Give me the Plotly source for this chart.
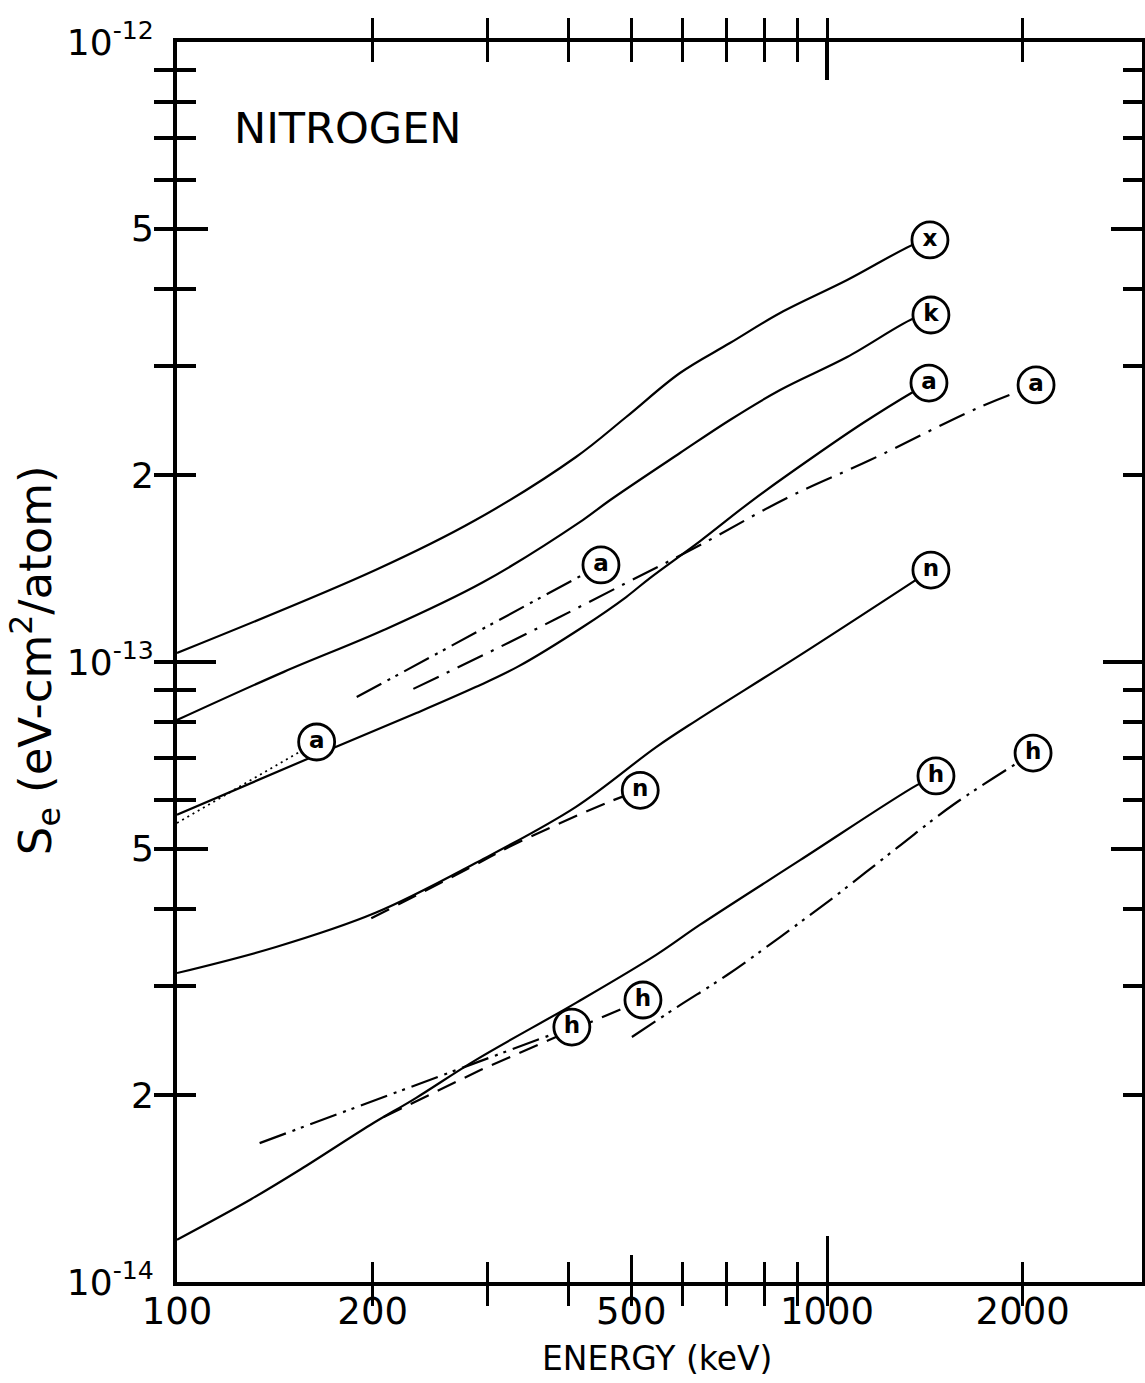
import plotly.graph_objects as go

# ---------------- data (energy in keV, S_e in eV-cm^2/atom) ----------------
x_energy = [100, 202, 288, 411, 491, 594, 709, 847, 1074, 1375, 1440]
x_se = [1.034e-13, 1.407e-13, 1.694e-13, 2.141e-13, 2.484e-13, 2.925e-13,
        3.269e-13, 3.655e-13, 4.131e-13, 4.741e-13, 4.794e-13]

k_energy = [100, 146, 208, 296, 421, 464, 594, 709, 847, 1074, 1375, 1445]
k_se = [0.806e-13, 0.964e-13, 1.126e-13, 1.346e-13, 1.694e-13, 1.825e-13,
        2.173e-13, 2.457e-13, 2.746e-13, 3.104e-13, 3.601e-13, 3.628e-13]

a_solid_energy = [100, 164, 234, 288, 334, 421, 491, 534, 638, 769, 952, 1136, 1356, 1435]
a_solid_se = [0.567e-13, 0.708e-13, 0.828e-13, 0.911e-13, 0.982e-13, 1.139e-13, 1.273e-13,
              1.366e-13, 1.567e-13, 1.825e-13, 2.141e-13, 2.429e-13, 2.726e-13, 2.818e-13]

a_dotted_energy = [100, 164]
a_dotted_se = [0.550e-13, 0.743e-13]

a_dashdotdot_energy = [189, 449]
a_dashdotdot_se = [0.878e-13, 1.434e-13]

a_dashdot_energy = [231, 337, 491, 638, 868, 1165, 1719, 2097]
a_dashdot_se = [0.905e-13, 1.097e-13, 1.341e-13, 1.544e-13, 1.839e-13, 2.117e-13, 2.578e-13, 2.798e-13]

n_solid_energy = [100, 142, 202, 288, 411, 546, 631, 909, 1445]
n_solid_se = [0.315e-13, 0.347e-13, 0.394e-13, 0.474e-13, 0.584e-13, 0.729e-13,
              0.806e-13, 1.026e-13, 1.407e-13]

n_dashed_energy = [199, 288, 324, 457, 516]
n_dashed_se = [0.386e-13, 0.471e-13, 0.503e-13, 0.592e-13, 0.621e-13]

h_solid_energy = [100, 130, 155, 198, 233, 288, 411, 546, 638, 909, 1375, 1471]
h_solid_se = [0.117e-13, 0.136e-13, 0.152e-13, 0.179e-13, 0.198e-13, 0.228e-13,
              0.282e-13, 0.337e-13, 0.377e-13, 0.479e-13, 0.633e-13, 0.655e-13]

h_dashed_energy = [208, 293, 405, 521]
h_dashed_se = [0.1845e-13, 0.2197e-13, 0.2549e-13, 0.285e-13]

h_dashdotdot_short_energy = [134, 405]
h_dashdotdot_short_se = [0.1675e-13, 0.2577e-13]

h_dashdotdot_long_energy = [501, 588, 702, 847, 1011, 1281, 1562, 2075]
h_dashdotdot_long_se = [0.2484e-13, 0.2776e-13, 0.3127e-13, 0.3601e-13, 0.4131e-13,
                        0.5012e-13, 0.588e-13, 0.7131e-13]

# curve end labels (letter, energy, S_e)
label_letters = ["x", "k", "a", "a", "a", "a", "n", "n", "h", "h", "h", "h"]
label_energy = [1440, 1445, 1435, 2097, 449, 164, 1445, 516, 1471, 2075, 405, 521]
label_se = [4.794e-13, 3.628e-13, 2.818e-13, 2.798e-13, 1.434e-13, 0.743e-13,
            1.407e-13, 0.621e-13, 0.655e-13, 0.7131e-13, 0.2577e-13, 0.285e-13]

# axis ticks
x_tickvals = [100, 200, 300, 400, 500, 600, 700, 800, 900, 1000, 2000]
x_ticktext = ["100", "200", "", "", "500", "", "", "", "", "1000", "2000"]
y_tickvals = [1e-14, 2e-14, 3e-14, 4e-14, 5e-14, 6e-14, 7e-14, 8e-14, 9e-14,
              1e-13, 2e-13, 3e-13, 4e-13, 5e-13, 6e-13, 7e-13, 8e-13, 9e-13, 1e-12]
y_ticktext = ["10<sup>-14</sup>", "2", "", "", "5", "", "", "", "",
              "10<sup>-13</sup>", "2", "", "", "5", "", "", "", "", "10<sup>-12</sup>"]

# ---------------- styles ----------------
FONT = "DejaVu Sans"
DASH = "20px,10px"
DASHDOT = "28px,9px,3px,9px"
DASHDOTDOT = "28px,7px,3px,6px,3px,7px"
DOT = "2px,4px"

series = [
    (x_energy, x_se, "solid", "spline", 2.2),
    (k_energy, k_se, "solid", "spline", 2.2),
    (a_solid_energy, a_solid_se, "solid", "spline", 2.2),
    (a_dotted_energy, a_dotted_se, DOT, "linear", 1.8),
    (a_dashdotdot_energy, a_dashdotdot_se, DASHDOTDOT, "linear", 2.2),
    (a_dashdot_energy, a_dashdot_se, DASHDOT, "spline", 2.2),
    (n_solid_energy, n_solid_se, "solid", "spline", 2.2),
    (n_dashed_energy, n_dashed_se, DASH, "spline", 2.2),
    (h_solid_energy, h_solid_se, "solid", "spline", 2.2),
    (h_dashed_energy, h_dashed_se, DASH, "linear", 2.2),
    (h_dashdotdot_short_energy, h_dashdotdot_short_se, DASHDOTDOT, "linear", 2.2),
    (h_dashdotdot_long_energy, h_dashdotdot_long_se, DASHDOTDOT, "spline", 2.2),
]

fig = go.Figure()
for ex, se, dash, shape, w in series:
    fig.add_trace(go.Scatter(
        x=ex, y=se, mode="lines",
        line=dict(color="black", width=w, dash=dash, shape=shape, smoothing=1.0),
        showlegend=False, hoverinfo="skip"))

fig.add_trace(go.Scatter(
    x=label_energy, y=label_se, mode="markers+text", text=label_letters,
    textposition="middle center",
    textfont=dict(family=FONT, size=23, color="black", weight="bold"),
    marker=dict(symbol="circle", size=36, color="white",
                line=dict(color="black", width=2.8)),
    showlegend=False, hoverinfo="skip", cliponaxis=False))

# empty traces so overlay axes (longer ticks) are drawn
for xa, ya in [("x2", "y"), ("x3", "y"), ("x4", "y"), ("x", "y2"), ("x", "y3")]:
    fig.add_trace(go.Scatter(x=[], y=[], xaxis=xa, yaxis=ya, showlegend=False))

XR = [2, 3.4846]
YR = [-14, -12]
base_x = dict(type="log", range=XR, showgrid=False, zeroline=False, automargin=False)
base_y = dict(type="log", range=YR, showgrid=False, zeroline=False, automargin=False)

fig.update_layout(
    width=1145, height=1383,
    margin=dict(l=177, r=3, t=42, b=101),
    paper_bgcolor="white", plot_bgcolor="white",
    font=dict(family=FONT, color="black"),
    xaxis=dict(**base_x, tickmode="array", tickvals=x_tickvals, ticktext=x_ticktext,
               ticks="inside", ticklen=20, tickwidth=3, tickcolor="black",
               showline=True, linewidth=4, linecolor="black", mirror="allticks",
               tickfont=dict(family=FONT, size=37, color="black"),
               ticklabelstandoff=-6),
    xaxis2=dict(**base_x, overlaying="x", anchor="y", side="bottom",
                tickmode="array", tickvals=[500], ticks="inside", ticklen=27,
                tickwidth=3, tickcolor="black", showticklabels=False, showline=False),
    xaxis3=dict(**base_x, overlaying="x", anchor="y", side="bottom",
                tickmode="array", tickvals=[1000], ticks="inside", ticklen=46,
                tickwidth=3, tickcolor="black", showticklabels=False, showline=False),
    xaxis4=dict(**base_x, overlaying="x", anchor="y", side="top",
                tickmode="array", tickvals=[1000], ticks="inside", ticklen=38,
                tickwidth=4, tickcolor="black", showticklabels=False, showline=False),
    yaxis=dict(**base_y, tickmode="array", tickvals=y_tickvals, ticktext=y_ticktext,
               ticks="inside", ticklen=19, tickwidth=4, tickcolor="black",
               showline=True, linewidth=4, linecolor="black", mirror="allticks",
               tickfont=dict(family=FONT, size=36, color="black"),
               ticklabelstandoff=12),
    yaxis2=dict(**base_y, overlaying="y", anchor="x", side="left",
                tickmode="array", tickvals=[5e-14, 5e-13], ticks="inside", ticklen=31,
                tickwidth=4, tickcolor="black", showticklabels=False, showline=False,
                mirror="ticks"),
    yaxis3=dict(**base_y, overlaying="y", anchor="x", side="left",
                tickmode="array", tickvals=[1e-13], ticks="inside", ticklen=39,
                tickwidth=4, tickcolor="black", showticklabels=False, showline=False,
                mirror="ticks"),
    annotations=[
        dict(text="NITROGEN", xref="paper", yref="paper", x=0.057, y=0.9306,
             xanchor="left", yanchor="middle", showarrow=False,
             font=dict(family=FONT, size=43, color="black")),
        dict(text="ENERGY (keV)", xref="paper", yref="paper", x=0.497, y=-0.0613,
             xanchor="center", yanchor="middle", showarrow=False,
             font=dict(family=FONT, size=33, color="black")),
        dict(text="S<sub>e</sub> (eV-cm<sup>2</sup>/atom)", xref="paper", yref="paper",
             x=-0.147, y=0.5016, xanchor="center", yanchor="middle", textangle=-90,
             showarrow=False, font=dict(family=FONT, size=45, color="black")),
    ],
)

fig.write_html(
    "out.html",
    config={"displayModeBar": False},
    post_script="document.body.style.margin='0px';document.body.style.padding='0px';"
                "document.body.style.overflow='hidden';",
)
